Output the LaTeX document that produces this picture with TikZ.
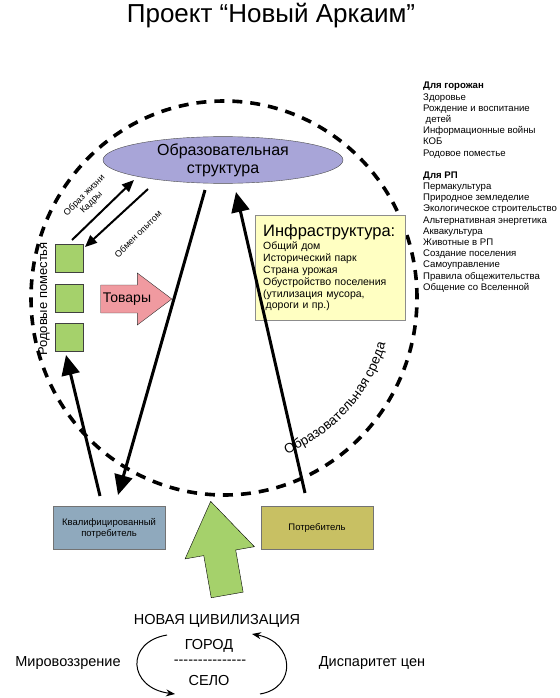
\documentclass[tikz,border=0pt]{standalone}
\usepackage{fontspec}
\setmainfont{Liberation Sans}
\usetikzlibrary{shapes.geometric,shapes.arrows,arrows.meta,decorations.text}

\definecolor{lav}{HTML}{A8A5D8}
\definecolor{cream}{HTML}{FFFFC2}
\definecolor{leaf}{HTML}{A5D16B}
\definecolor{rose}{HTML}{F09AA0}
\definecolor{steel}{HTML}{8FA9BD}
\definecolor{olive}{HTML}{C8C063}

\newcommand{\fs}[2]{\fontsize{#1}{#2}\selectfont}

\begin{document}
\begin{tikzpicture}[x=1pt,y=1pt,
	tile/.style={draw=black!75, fill=leaf, minimum size=28pt, inner sep=0pt},
	card/.style={draw=black!55, minimum width=112pt, minimum height=43pt, inner sep=0pt, align=center, font=\fs{9.5}{11}},
	bigarr/.style={line width=3pt, -{Triangle[length=20pt,width=18pt]}},
	smallarr/.style={line width=2pt, -{Triangle[length=12pt,width=10pt]}},
	curvy/.style={line width=1pt, -{Stealth[length=9pt,width=7pt]}},
	lbl/.style={font=\fs{9}{10}, rotate=45, align=center}]
	\useasboundingbox (0,0) rectangle (559,-698);

	\node (title) at (271,-16) [font=\fs{26}{28}] {Проект “Новый Аркаим”};

	\node (env) at (224,-298) [ellipse, draw, dash pattern=on 10pt off 8pt, line width=3.6pt, minimum width=386pt, minimum height=394pt, inner sep=0pt] {};
	\path[decorate, decoration={text along path, text align=center, text={|\fs{13.5}{14}|Образовательная среда}}]
		(env.center) ++(-74:168pt) arc[start angle=-74, end angle=-10, radius=168pt];

	\node (struct) at (223,-160) [ellipse, draw=black!70, fill=lav, minimum width=240pt, minimum height=45pt, inner sep=0pt, align=center, font=\fs{16}{18}] {Образовательная\\структура};

	\node (list) at (423,-82) [anchor=north west, align=left, inner sep=0pt, font=\fs{9.6}{11.2}] {\textbf{Для горожан}\\Здоровье\\Рождение и воспитание\\\hspace*{2.5pt}детей\\Информационные войны\\КОБ\\Родовое поместье\\[11pt]\textbf{Для РП}\\Пермакультура\\Природное земледелие\\Экологическое строительство\\Альтернативная энергетика\\Аквакультура\\Животные в РП\\Создание поселения\\Самоуправление\\Правила общежительства\\Общение со Вселенной};

	\node (infra) at (255,-215) [anchor=north west, draw=black!45, fill=cream, text width=134pt, minimum height=105pt, inner xsep=8pt, align=left, font=\fs{10.5}{11.8}] {{\fs{16.5}{19}Инфраструктура:}\\[2pt]Общий дом\\Исторический парк\\Страна урожая\\Обустройство поселения\\(утилизация мусора,\\\hspace*{2.5pt}дороги и пр.)};

	\node (p1) at (69,-258) [tile] {};
	\node (p2) at (69,-298) [tile] {};
	\node (p3) at (69,-337) [tile] {};
	\node (estates) at (44,-299) [rotate=90, font=\fs{13}{13}] {Родовые поместья};
	\node (goods) at (127,-299) [single arrow, draw=black!80, fill=rose, minimum height=70pt, single arrow head extend=12pt, single arrow tip angle=74, inner ysep=7.5pt, inner xsep=2pt, font=\fs{14}{14}] {Товары};

	\coordinate (s1) at (72,-240);
	\coordinate (s2) at (134,-180);
	\coordinate (s3) at (148,-189);
	\coordinate (s4) at (85,-247);
	\node (life) at (88,-199) [lbl] {Образ жизни\\Кадры};
	\node (share) at (138,-234) [lbl] {Обмен опытом};

	\node (qual) at (109,-528) [card, fill=steel] {Квалифицированный\\потребитель};
	\node (cons) at (317,-528) [card, fill=olive] {Потребитель};

	\coordinate (a1) at (205,-190);
	\coordinate (a2) at (118,-495);
	\coordinate (b1) at (100,-496);
	\coordinate (b2) at (66,-355);
	\coordinate (c1) at (305,-493);
	\coordinate (c2) at (236,-192);

	\node (rise) at (221,-560) [single arrow, draw, fill=leaf, rotate=100, minimum height=95pt, single arrow head extend=19pt, single arrow tip angle=68, inner ysep=16pt, inner xsep=0pt] {};

	\node (civ) at (217,-621) [font=\fs{14.5}{14}] {НОВАЯ ЦИВИЛИЗАЦИЯ};
	\node (city) at (209,-646) [font=\fs{14.5}{14}] {ГОРОД};
	\node (rule) at (210,-662) [font=\fs{14.5}{14}] {\foreach \i in {1,...,15}{-\kern0pt}};
	\node (vill) at (209,-680) [font=\fs{14.5}{14}] {СЕЛО};
	\node (view) at (68,-663) [font=\fs{14.5}{14}] {Мировоззрение};
	\node (price) at (372,-663) [font=\fs{14.5}{14}] {Диспаритет цен};
	\coordinate (l1) at (167,-635);
	\coordinate (l2) at (175,-694);
	\coordinate (r1) at (260,-694);
	\coordinate (r2) at (252,-634);

	\draw
	(a1) edge[bigarr] (a2)
	(b1) edge[bigarr] (b2)
	(c1) edge[bigarr] (c2)
	(s1) edge[smallarr] (s2)
	(s3) edge[smallarr] (s4)
	;
	\draw[curvy] (l1) .. controls (125,-642) and (128,-688) .. (l2);
	\draw[curvy] (r1) .. controls (297,-688) and (295,-642) .. (r2);
\end{tikzpicture}
\end{document}
